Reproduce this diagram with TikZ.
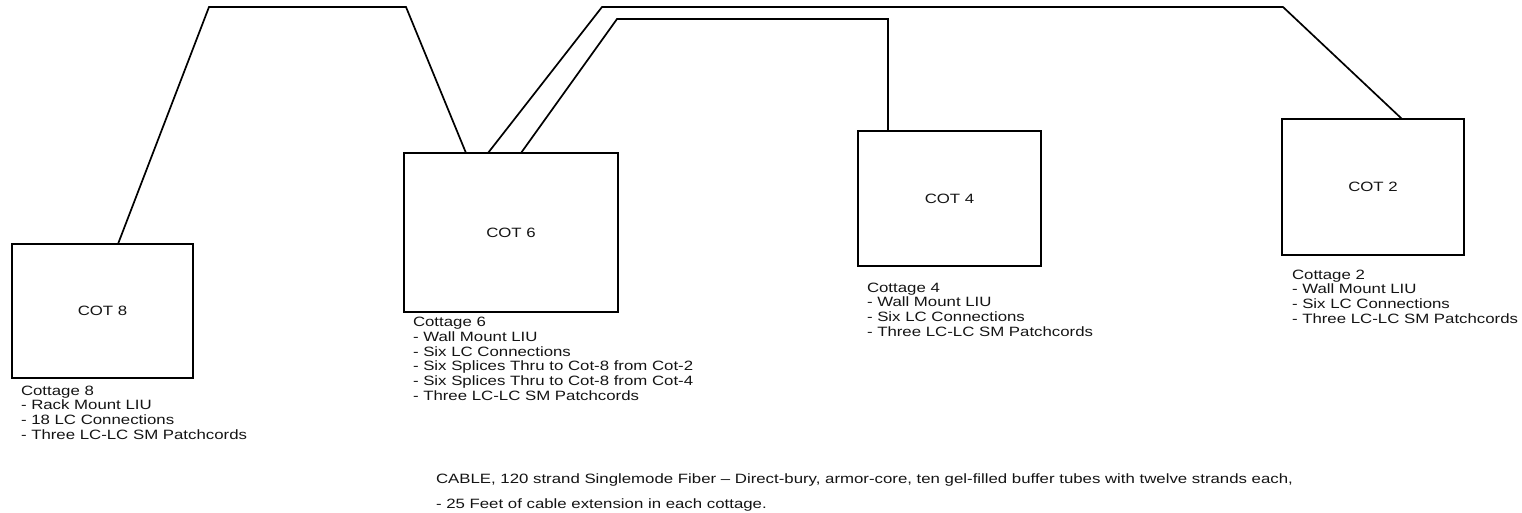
\documentclass[tikz,border=0pt]{standalone}
\usepackage{fontspec}
\setmainfont[FakeStretch=1.245]{Liberation Sans}
\usetikzlibrary{calc}
\begin{document}
\begin{tikzpicture}[x=1pt,y=-1pt,
  cot/.style={draw=black,line width=1.7pt,rectangle,inner sep=0pt,outer sep=0pt,
    font=\fontsize{13.5}{14.7}\selectfont,text=black!92},
  info/.style={anchor=north west,align=left,inner sep=0pt,outer sep=0pt,
    font=\fontsize{13.5}{14.7}\selectfont,text=black!92},
  cable/.style={line width=1.7pt,line join=miter}]
\useasboundingbox[fill=white] (0,0) rectangle (1522,513);

\node[cot,minimum width=181pt,minimum height=134pt] (c8) at (102.5,311) {COT 8};
\node[cot,minimum width=214pt,minimum height=159pt] (c6) at (511,232.5) {COT 6};
\node[cot,minimum width=183pt,minimum height=135pt] (c4) at (949.5,198.5) {COT 4};
\node[cot,minimum width=182pt,minimum height=136pt] (c2) at (1373,187) {COT 2};

\node[info] (t8) at (21,385.7) {Cottage 8\\- Rack Mount LIU\\- 18 LC Connections\\- Three LC-LC SM Patchcords};
\node[info] (t6) at (413,317.2) {Cottage 6\\- Wall Mount LIU\\- Six LC Connections\\- Six Splices Thru to Cot-8 from Cot-2\\- Six Splices Thru to Cot-8 from Cot-4\\- Three LC-LC SM Patchcords};
\node[info] (t4) at (867,282.7) {Cottage 4\\- Wall Mount LIU\\- Six LC Connections\\- Three LC-LC SM Patchcords};
\node[info] (t2) at (1292,269.7) {Cottage 2\\- Wall Mount LIU\\- Six LC Connections\\- Three LC-LC SM Patchcords};

\node[info,anchor=base west] (n1) at (436,483) {CABLE, 120 strand Singlemode Fiber -- Direct-bury, armor-core, ten gel-filled buffer tubes with twelve strands each,};
\node[info,anchor=base west] (n2) at (436,508) {- 25 Feet of cable extension in each cottage.};

\coordinate (a1) at (209,7);
\coordinate (a2) at (406,7);
\coordinate (b1) at (602,7);
\coordinate (b2) at (1283,7);
\coordinate (d1) at (617,19);
\coordinate (d2) at (888,19);

\draw[cable] ($(c8.north west)+(106,0)$) -- (a1) -- (a2) -- ($(c6.north west)+(62,0)$);
\draw[cable] ($(c6.north west)+(84,0)$) -- (b1) -- (b2) -- ($(c2.north west)+(120,0)$);
\draw[cable] ($(c6.north west)+(117,0)$) -- (d1) -- (d2) -- ($(c4.north west)+(30,0)$);
\end{tikzpicture}
\end{document}
